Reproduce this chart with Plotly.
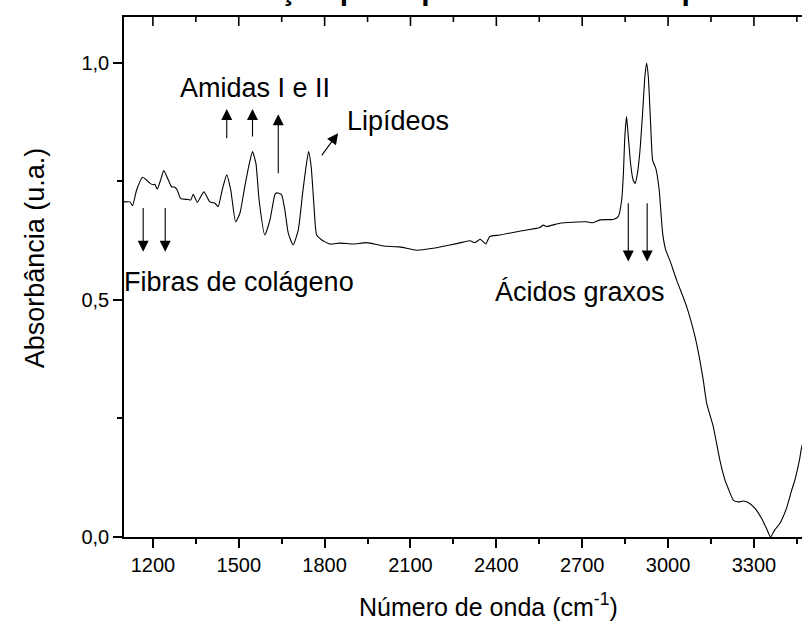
import plotly.graph_objects as go

# ---- data ----
wavenumber = [1099, 1120, 1129, 1143, 1164, 1178, 1190, 1201, 1207, 1215, 1227, 1238,
              1254, 1265, 1277, 1285, 1297, 1323, 1332, 1341, 1355, 1378, 1399, 1417,
              1428, 1442, 1458, 1472, 1489, 1504, 1521, 1537, 1548, 1560, 1571, 1591,
              1609, 1626, 1632, 1644, 1650, 1661, 1673, 1690, 1708, 1723, 1735, 1744,
              1753, 1763, 1772, 1789, 1818, 1853, 1900, 1947, 2005, 2063, 2121, 2179,
              2238, 2284, 2308, 2325, 2343, 2354, 2363, 2377, 2412, 2471, 2552, 2564,
              2575, 2622, 2668, 2715, 2738, 2762, 2808, 2826, 2838, 2844, 2849, 2855,
              2861, 2869, 2878, 2885, 2893, 2902, 2911, 2919, 2925, 2931, 2939, 2946,
              2957, 2969, 2981, 2992, 3006, 3030, 3065, 3094, 3111, 3123, 3135, 3158,
              3181, 3199, 3210, 3228, 3245, 3263, 3280, 3303, 3327, 3344, 3358, 3373,
              3391, 3414, 3432, 3443, 3459, 3466, 3480]
absorbance = [0.707, 0.707, 0.699, 0.732, 0.759, 0.753, 0.746, 0.743, 0.744, 0.734, 0.753, 0.773,
              0.753, 0.739, 0.738, 0.732, 0.714, 0.712, 0.711, 0.723, 0.706, 0.728, 0.707, 0.704,
              0.697, 0.732, 0.764, 0.732, 0.665, 0.683, 0.739, 0.788, 0.813, 0.788, 0.711, 0.637,
              0.669, 0.722, 0.726, 0.724, 0.722, 0.690, 0.641, 0.616, 0.648, 0.725, 0.781, 0.813,
              0.781, 0.697, 0.637, 0.627, 0.618, 0.620, 0.618, 0.621, 0.614, 0.612, 0.605, 0.609,
              0.616, 0.622, 0.625, 0.621, 0.628, 0.623, 0.618, 0.634, 0.637, 0.644, 0.653, 0.658,
              0.655, 0.662, 0.664, 0.665, 0.663, 0.669, 0.670, 0.676, 0.711, 0.767, 0.845, 0.887,
              0.845, 0.788, 0.753, 0.746, 0.767, 0.816, 0.894, 0.971, 1.000, 0.971, 0.873, 0.795,
              0.778, 0.732, 0.641, 0.605, 0.584, 0.542, 0.486, 0.423, 0.373, 0.331, 0.282, 0.233,
              0.162, 0.120, 0.103, 0.078, 0.074, 0.076, 0.073, 0.061, 0.039, 0.018, 0.000, 0.015,
              0.029, 0.061, 0.099, 0.120, 0.162, 0.187, 0.220]

x_tick_vals = [1200, 1500, 1800, 2100, 2400, 2700, 3000, 3300]
x_tick_text = ["1200", "1500", "1800", "2100", "2400", "2700", "3000", "3300"]
x_minor_vals = [1350, 1650, 1950, 2250, 2550, 2850, 3150, 3450]
y_tick_vals = [0.0, 0.5, 1.0]
y_tick_text = ["0,0", "0,5", "1,0"]

# annotation anchors (data units)
up_arrows_x = [1458, 1548, 1638]
up_arrows_tail = [0.838, 0.842, 0.764]
up_arrows_head = [0.903, 0.903, 0.892]
collagen_x = [1166, 1243]
acids_x = [2861, 2927]

FONT = "Arial, Liberation Sans, sans-serif"
X_RANGE = [1099, 3468]
Y_RANGE = [0, 1.097]
Y_PER_PX = (Y_RANGE[1] - Y_RANGE[0]) / (625 - 17 - 88)

fig = go.Figure()
fig.add_trace(go.Scatter(x=wavenumber, y=absorbance, mode="lines",
                         line=dict(color="black", width=1.1, shape="spline", smoothing=0.5),
                         showlegend=False, hoverinfo="skip"))

# inward ticks hanging from the top frame line (drawn as short line segments)
top_x, top_y = [], []
for v in x_tick_vals:
    top_x += [v, v, None]
    top_y += [Y_RANGE[1], Y_RANGE[1] - 9 * Y_PER_PX, None]
for v in x_minor_vals:
    if X_RANGE[0] < v < X_RANGE[1]:
        top_x += [v, v, None]
        top_y += [Y_RANGE[1], Y_RANGE[1] - 5 * Y_PER_PX, None]
fig.add_trace(go.Scatter(x=top_x, y=top_y, mode="lines", cliponaxis=False,
                         line=dict(color="black", width=1.6), showlegend=False,
                         hoverinfo="skip"))

axis_common = dict(showgrid=False, zeroline=False, showline=True, linecolor="black",
                   linewidth=1.6, tickcolor="black", tickwidth=1.5,
                   tickfont=dict(family=FONT, size=20, color="black"))

fig.update_layout(
    width=802, height=625,
    margin=dict(l=124, r=0, t=17, b=88),
    paper_bgcolor="white", plot_bgcolor="white",
    xaxis=dict(range=X_RANGE, tickvals=x_tick_vals, ticktext=x_tick_text,
               ticks="outside", ticklen=9, mirror=True,
               minor=dict(ticks="outside", ticklen=5, tickvals=x_minor_vals,
                          tickcolor="black", tickwidth=1.5),
               **axis_common),
    yaxis=dict(range=Y_RANGE, tickvals=y_tick_vals, ticktext=y_tick_text,
               ticks="outside", ticklen=9,
               minor=dict(ticks="outside", ticklen=5, tick0=0, dtick=0.25,
                          tickcolor="black", tickwidth=1.5),
               **axis_common),
)

annotations = []
txt = dict(family=FONT, size=27, color="black")

# axis titles
annotations.append(dict(text="Absorbância (u.a.)", xref="paper", yref="paper",
                        x=-0.132, y=0.537, textangle=-90, showarrow=False,
                        xanchor="center", yanchor="middle", font=txt))
annotations.append(dict(text="Número de onda (cm<sup>-1</sup>)", xref="paper", yref="paper",
                        x=0.537, y=-0.13, showarrow=False, xanchor="center",
                        yanchor="middle", font=dict(family=FONT, size=25, color="black")))
# clipped title at the very top
annotations.append(dict(text="<b>Atribuição principais bandas do espectro</b>",
                        xref="paper", yref="paper", x=0.084, y=1.0,
                        yshift=9, xanchor="left", yanchor="bottom", showarrow=False,
                        font=dict(family=FONT, size=30, color="black")))

# labels
annotations.append(dict(text="Amidas I e II", x=1556, y=0.947, xref="x", yref="y",
                        showarrow=False, font=txt, xanchor="center", yanchor="middle"))
annotations.append(dict(text="Lipídeos", x=1871, y=0.878, xref="x", yref="y",
                        showarrow=False, font=txt, xanchor="left", yanchor="middle"))
annotations.append(dict(text="Fibras de colágeno", x=0.0, y=0.538, xref="paper", yref="y",
                        xshift=-2, showarrow=False, font=txt, xanchor="left",
                        yanchor="middle"))
annotations.append(dict(text="Ácidos graxos", x=2388, y=0.517, xref="x", yref="y",
                        showarrow=False, font=txt, xanchor="left", yanchor="middle"))

arrow_style = dict(showarrow=True, arrowhead=2, arrowsize=2.0, arrowwidth=1.1,
                   arrowcolor="black", text="", xref="x", yref="y", axref="x", ayref="y")
for xv, t, h in zip(up_arrows_x, up_arrows_tail, up_arrows_head):
    annotations.append(dict(x=xv, y=h, ax=xv, ay=t, **arrow_style))
annotations.append(dict(x=1847, y=0.852, ax=1786, ay=0.802, **arrow_style))
for xv in collagen_x:
    annotations.append(dict(x=xv, y=0.602, ax=xv, ay=0.697, **arrow_style))
for xv in acids_x:
    annotations.append(dict(x=xv, y=0.581, ax=xv, ay=0.707, **arrow_style))

fig.update_layout(annotations=annotations)
fig.write_html("out.html", config={"displayModeBar": False},
               post_script="document.body.style.margin='0px';document.body.style.overflow='hidden';")
